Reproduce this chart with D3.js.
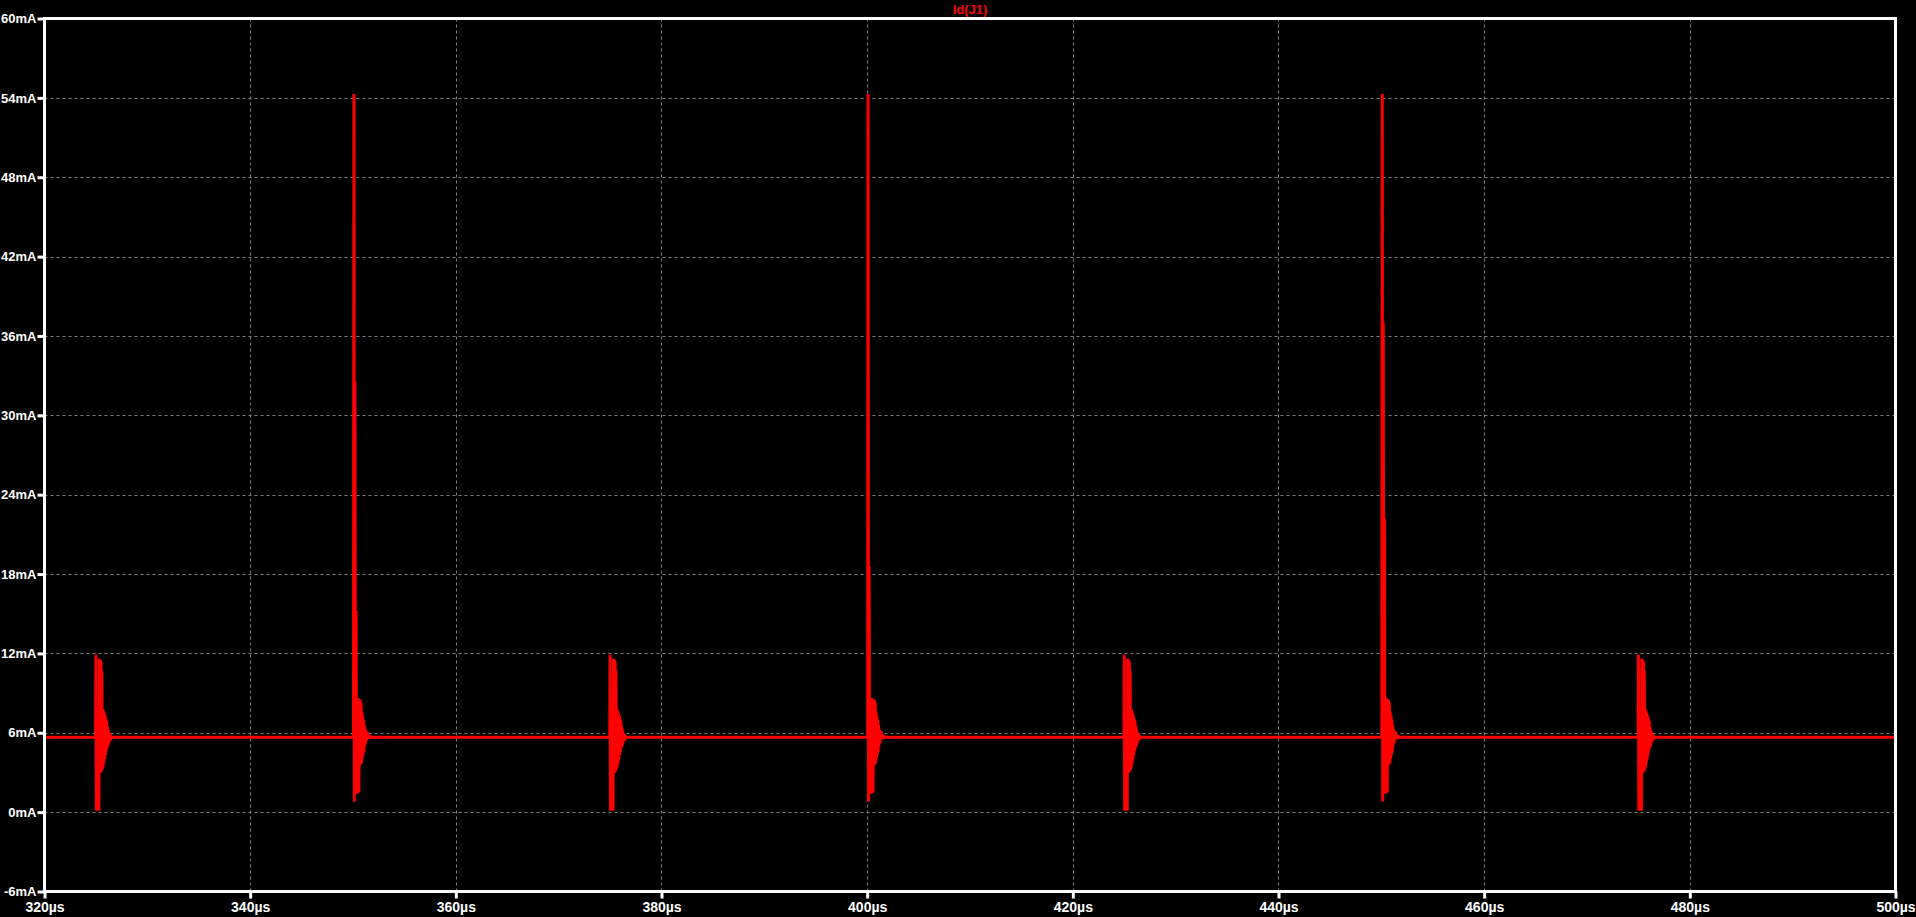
<!DOCTYPE html>
<html>
<head>
<meta charset="utf-8">
<script src="https://cdn.jsdelivr.net/npm/d3@7"></script>
<style>
  html, body { margin: 0; padding: 0; background: #000; }
  svg { display: block; }
  .lbl { font-family: "Liberation Sans", Arial, sans-serif; font-weight: bold; }
</style>
</head>
<body>
<svg id="chart" width="1916" height="917"></svg>
<script>
// ---- data ----
const title = "Id(J1)";
const xTicks = [320, 340, 360, 380, 400, 420, 440, 460, 480, 500];       // µs
const yTicks = [-6, 0, 6, 12, 18, 24, 30, 36, 42, 48, 54, 60];          // mA
const xDomain = [320, 500];
const yDomain = [-6, 60];
const baselineCurrent = 5.67;                                            // mA, steady level
const smallEventTimes = [325, 375, 425, 475];                            // µs
const bigEventTimes = [350, 400, 450];                                   // µs
const bigPeak = [54.3, 54.3, 54.3];                                      // mA
const bigStep1 = [32.6, 18.6, 37.0];                                     // mA
const bigStep2 = [15.2, 8.6, 22.2];                                      // mA
// large-event head (offsets in µs after the event)
const bigHeadOffsets = [0.05, 0.09, 0.13, 0.19, 0.24, 0.30, 0.35];
// ringing tail after a large event
const bigTailOffsets = [0.42,0.47,0.52,0.57,0.62,0.66,0.70,0.74,0.78,0.82,0.86,0.90,0.94,0.98,1.02,1.06,1.10,1.14,1.18,1.22,1.27,1.32,1.37,1.42,1.48,1.54,1.62,1.70,1.78];
const bigTailValues  = [8.6,1.45,8.6,1.5,8.5,3.55,8.5,3.6,8.25,3.7,7.6,4.05,7.3,4.3,7.0,4.55,6.6,4.95,6.3,5.2,6.1,5.45,6.1,5.5,5.85,5.55,5.8,5.6,5.67];
// small event waveform
const smallOffsets = [-0.03,0.00,0.04,0.18,0.29,0.33,0.37,0.41,0.45,0.49,0.53,0.57,0.61,0.65,0.69,0.73,0.77,0.81,0.85,0.89,0.93,0.97,1.01,1.05,1.09,1.13,1.17,1.21,1.25,1.29,1.33,1.38,1.44,1.50,1.58];
const smallValues  = [5.67,11.9,0.1,3.0,0.1,11.6,2.95,11.5,3.0,11.4,3.1,10.7,3.2,7.8,3.4,7.7,3.7,7.5,4.0,7.3,4.3,7.1,4.6,6.9,4.85,6.5,5.0,6.2,5.2,6.0,5.35,5.9,5.45,5.75,5.67];

// ---- build the trace ----
const events = [];
smallEventTimes.forEach(t => events.push({t, kind: "small"}));
bigEventTimes.forEach((t, i) => events.push({t, kind: "big", i}));
events.sort((a, b) => a.t - b.t);

const trace = [[xDomain[0], baselineCurrent]];
events.forEach(ev => {
  if (ev.kind === "small") {
    smallOffsets.forEach((o, k) => trace.push([ev.t + o, smallValues[k]]));
  } else {
    const headVals = [baselineCurrent, bigPeak[ev.i], 0.8, bigStep1[ev.i], 1.4, bigStep2[ev.i], 1.4];
    bigHeadOffsets.forEach((o, k) => trace.push([ev.t + o, headVals[k]]));
    bigTailOffsets.forEach((o, k) => trace.push([ev.t + o, bigTailValues[k]]));
  }
});
trace.push([xDomain[1], baselineCurrent]);

// ---- layout ----
const L = 44.5, R = 1895.5, T = 18.5, B = 891.5;
const svg = d3.select("#chart");
svg.append("rect").attr("width", 1916).attr("height", 917).attr("fill", "#000");

const x = d3.scaleLinear().domain(xDomain).range([L, R]);
const y = d3.scaleLinear().domain(yDomain).range([B, T]);

// grid
const grid = svg.append("g").attr("stroke", "#808080").attr("stroke-width", 1).attr("stroke-dasharray", "3,3");
grid.selectAll("line.h").data(yTicks.slice(1, -1)).join("line")
  .attr("x1", L).attr("x2", R)
  .attr("y1", d => Math.round(y(d)) + 0.5).attr("y2", d => Math.round(y(d)) + 0.5);
grid.selectAll("line.v").data(xTicks.slice(1, -1)).join("line")
  .attr("y1", T).attr("y2", B)
  .attr("x1", d => Math.round(x(d)) + 0.5).attr("x2", d => Math.round(x(d)) + 0.5);

// trace
const line = d3.line().x(d => x(d[0])).y(d => y(d[1]));
svg.append("path").datum(trace)
  .attr("d", line)
  .attr("fill", "none")
  .attr("stroke", "#ff0000")
  .attr("stroke-width", 3)
  .attr("stroke-linejoin", "bevel");

// frame
svg.append("rect").attr("x", L).attr("y", T).attr("width", R - L).attr("height", B - T)
  .attr("fill", "none").attr("stroke", "#fff").attr("stroke-width", 3);

// axes
const yAxis = d3.axisLeft(y).tickValues(yTicks).tickFormat(d => d + "mA").tickSize(7).tickPadding(1);
const gy = svg.append("g").attr("transform", `translate(${L},0)`).call(yAxis);
gy.select(".domain").remove();
gy.selectAll(".tick line").attr("stroke", "#fff").attr("stroke-width", 3);
gy.selectAll(".tick text").attr("fill", "#fff").attr("class", "lbl").attr("font-size", 13);

const xAxis = d3.axisBottom(x).tickValues(xTicks).tickFormat(d => d + "µs").tickSize(7).tickPadding(3.5);
const gx = svg.append("g").attr("transform", `translate(0,${B})`).call(xAxis);
gx.select(".domain").remove();
gx.selectAll(".tick line").attr("stroke", "#fff").attr("stroke-width", 3);
gx.selectAll(".tick text").attr("fill", "#fff").attr("class", "lbl").attr("font-size", 14);

// title
svg.append("text").attr("class", "lbl")
  .attr("x", (L + R) / 2).attr("y", 14)
  .attr("text-anchor", "middle").attr("fill", "#ff0000").attr("font-size", 13)
  .text(title);
</script>
</body>
</html>
